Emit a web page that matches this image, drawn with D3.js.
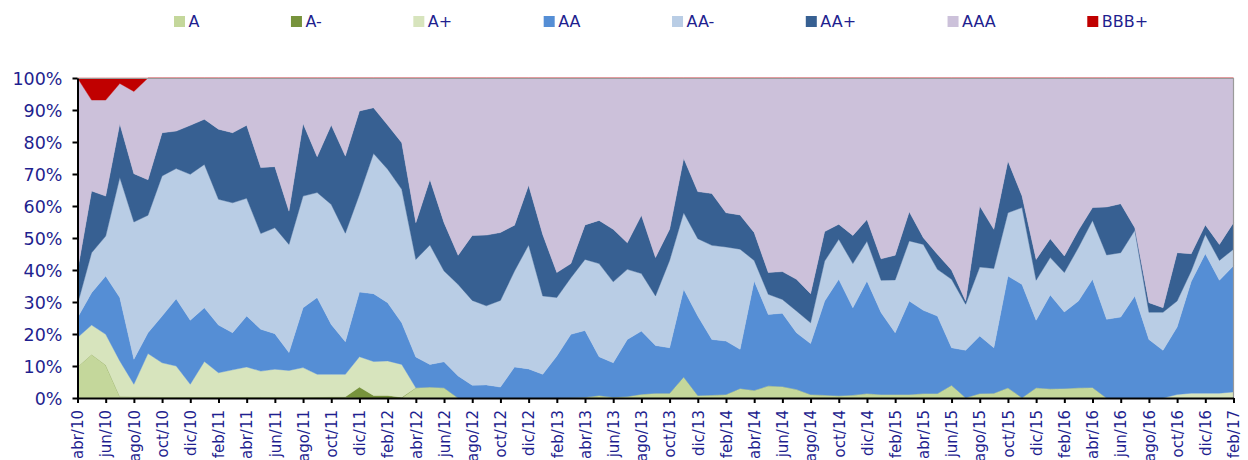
<!DOCTYPE html>
<html>
<head>
<meta charset="utf-8">
<script src="https://cdnjs.cloudflare.com/ajax/libs/d3/7.8.5/d3.min.js"></script>
<style>
  body { margin: 0; background: #fff; }
  text { font-family: "DejaVu Sans", Verdana, sans-serif; fill: #1f1f8f; }
</style>
</head>
<body>
<div class="chart"></div>
<script>
// categories (monthly, abr/10 .. feb/17)
var months = [
  "abr/10", "may/10", "jun/10", "jul/10", "ago/10", "sep/10", "oct/10", "nov/10", "dic/10",
  "ene/11", "feb/11", "mar/11", "abr/11", "may/11", "jun/11", "jul/11", "ago/11", "sep/11", "oct/11", "nov/11", "dic/11",
  "ene/12", "feb/12", "mar/12", "abr/12", "may/12", "jun/12", "jul/12", "ago/12", "sep/12", "oct/12", "nov/12", "dic/12",
  "ene/13", "feb/13", "mar/13", "abr/13", "may/13", "jun/13", "jul/13", "ago/13", "sep/13", "oct/13", "nov/13", "dic/13",
  "ene/14", "feb/14", "mar/14", "abr/14", "may/14", "jun/14", "jul/14", "ago/14", "sep/14", "oct/14", "nov/14", "dic/14",
  "ene/15", "feb/15", "mar/15", "abr/15", "may/15", "jun/15", "jul/15", "ago/15", "sep/15", "oct/15", "nov/15", "dic/15",
  "ene/16", "feb/16", "mar/16", "abr/16", "may/16", "jun/16", "jul/16", "ago/16", "sep/16", "oct/16", "nov/16", "dic/16",
  "ene/17", "feb/17"
];

// x tick labels: every second month
var tickLabels = months.filter(function(d, i) { return i % 2 === 0; });

var keys = ["A", "A-", "A+", "AA", "AA-", "AA+", "AAA", "BBB+"];
var colors = ["#c4d79b", "#77933c", "#d7e4bd", "#558ed5", "#b9cde5", "#376092", "#ccc1da", "#c00000"];

// series values (% of total)
var valsA = [
  9.7, 13.6, 10.3, 0.5, 0.4, 0.4, 0.3, 0.3, 0.3, 0.3,
  0.3, 0.3, 0.3, 0.3, 0.3, 0.3, 0.3, 0.2, 0.2, 0.2,
  0, 0, 0, 0, 3.2, 3.4, 3.2, 0, 0, 0,
  0, 0, 0, 0, 0, 0.1, 0.2, 0.8, 0.2, 0.5,
  1.2, 1.5, 1.5, 6.6, 0.8, 0.9, 1.1, 3.0, 2.4, 3.8,
  3.6, 2.7, 1.1, 0.9, 0.7, 0.9, 1.4, 1.1, 1.1, 1.1,
  1.4, 1.4, 4.0, 0.1, 1.4, 1.5, 3.2, 0.1, 3.2, 2.9,
  3.0, 3.2, 3.3, 0, 0, 0, 0, 0, 0, 0,
  0, 0, 0
];
var valsAminus = [
  0, 0, 0, 0, 0, 0, 0, 0, 0, 0,
  0, 0, 0, 0, 0, 0, 0, 0.1, 0.2, 0.2,
  3.4, 0.8, 0.8, 0.2, 0, 0, 0, 0, 0, 0,
  0, 0, 0, 0, 0, 0, 0, 0, 0, 0,
  0, 0, 0, 0, 0, 0, 0, 0, 0, 0,
  0, 0, 0, 0, 0, 0, 0, 0, 0, 0,
  0, 0, 0, 0, 0, 0, 0, 0, 0, 0,
  0, 0, 0, 0, 0, 0, 0, 0, 0, 0,
  0, 0, 0
];
var valsAplus = [
  9.2, 9.2, 9.6, 11.1, 3.9, 13.5, 10.7, 9.7, 4.0, 11.1,
  7.6, 8.5, 9.4, 8.1, 8.7, 8.3, 9.2, 7.1, 7.0, 7.0,
  9.5, 10.6, 10.8, 10.3, 0, 0, 0, 0, 0, 0,
  0, 0, 0, 0, 0, 0, 0, 0, 0, 0,
  0, 0, 0, 0, 0, 0, 0, 0, 0, 0,
  0, 0, 0, 0, 0, 0, 0, 0, 0, 0,
  0, 0, 0, 0, 0, 0, 0, 0, 0, 0,
  0, 0, 0, 0, 0, 0, 0, 0, 1.1, 1.5,
  1.5, 1.5, 1.9
];
var valsAA = [
  6.2, 10.1, 18.2, 19.8, 7.8, 6.5, 14.6, 21.0, 20.0, 16.8,
  14.9, 11.6, 15.9, 13.1, 11.1, 5.6, 18.7, 24.0, 15.6, 10.2,
  20.2, 21.2, 18.2, 13.0, 9.6, 7.1, 8.1, 6.9, 4.0, 4.1,
  3.4, 9.7, 9.1, 7.4, 13.1, 19.8, 20.9, 12.1, 10.8, 17.8,
  19.7, 14.9, 14.2, 27.4, 24.8, 17.4, 16.7, 12.2, 34.2, 22.3,
  22.9, 17.7, 15.9, 29.4, 36.4, 27.3, 35.2, 25.6, 19.3, 29.2,
  26.0, 24.2, 11.7, 14.8, 18.0, 14.2, 34.9, 35.4, 21.1, 29.3,
  23.9, 27.1, 33.8, 24.6, 25.3, 31.9, 18.3, 14.9, 21.1, 34.9,
  43.6, 35.3, 39.4
];
var valsAAminus = [
  4.2, 12.5, 12.5, 37.5, 42.9, 36.7, 43.8, 40.7, 45.6, 44.8,
  39.3, 40.6, 36.8, 29.9, 33.1, 33.8, 34.9, 32.8, 37.5, 33.9,
  30.5, 43.8, 41.7, 41.7, 30.5, 37.3, 28.4, 28.6, 26.5, 24.7,
  27.1, 30.0, 38.7, 24.5, 18.3, 17.7, 22.2, 29.1, 25.3, 21.9,
  18.0, 15.5, 27.3, 23.9, 24.2, 29.4, 29.4, 31.3, 6.4, 6.3,
  4.3, 6.8, 6.5, 12.5, 12.5, 13.8, 12.4, 10.1, 16.5, 18.8,
  20.6, 14.6, 21.4, 14.4, 21.5, 24.8, 19.8, 24.0, 12.5, 11.7,
  12.3, 16.7, 18.4, 20.1, 20.1, 20.5, 8.5, 11.9, 8.1, 3.3,
  6.0, 6.2, 5.2
];
var valsAAplus = [
  10.4, 19.3, 12.5, 16.8, 15.1, 11.1, 13.5, 11.7, 15.3, 14.1,
  21.9, 21.9, 22.8, 20.6, 19.1, 10.4, 22.7, 11.2, 24.8, 24.1,
  26.1, 14.3, 13.8, 14.6, 11.5, 20.5, 15.1, 9.1, 20.3, 22.1,
  21.2, 14.3, 18.7, 19.2, 7.8, 4.4, 10.8, 13.5, 16.4, 8.3,
  18.2, 12.0, 9.7, 17.0, 14.7, 16.2, 10.7, 10.7, 8.7, 6.8,
  8.7, 9.9, 9.1, 9.2, 4.7, 8.8, 6.8, 6.7, 7.7, 9.1,
  2.1, 4.7, 2.9, 1.0, 19.1, 12.2, 16.2, 3.6, 6.5, 5.9,
  5.2, 5.4, 4.0, 15.0, 15.3, 0.8, 3.0, 1.4, 15.1, 5.4,
  3.0, 5.0, 8.3
];
var valsAAA = [
  60.3, 28.4, 30.0, 12.6, 25.7, 31.8, 17.1, 16.6, 14.8, 12.9,
  16.0, 17.1, 14.8, 28.0, 27.7, 41.6, 14.2, 24.6, 14.7, 24.4,
  10.3, 9.3, 14.7, 20.2, 45.2, 31.7, 45.2, 55.4, 49.2, 49.1,
  48.3, 46.0, 33.5, 48.9, 60.8, 58.0, 45.9, 44.5, 47.3, 51.5,
  42.9, 56.1, 47.3, 25.1, 35.5, 36.1, 42.1, 42.8, 48.3, 60.8,
  60.5, 62.9, 67.4, 48.0, 45.7, 49.2, 44.2, 56.5, 55.4, 41.8,
  49.9, 55.1, 60.0, 69.7, 40.0, 47.3, 25.9, 36.9, 56.7, 50.2,
  55.6, 47.6, 40.5, 40.3, 39.3, 46.8, 70.2, 71.8, 54.6, 54.9,
  45.9, 52.0, 45.2
];
var valsBBBplus = [
  0, 6.9, 6.9, 1.7, 4.2, 0, 0, 0, 0, 0,
  0, 0, 0, 0, 0, 0, 0, 0, 0, 0,
  0, 0, 0, 0, 0, 0, 0, 0, 0, 0,
  0, 0, 0, 0, 0, 0, 0, 0, 0, 0,
  0, 0, 0, 0, 0, 0, 0, 0, 0, 0,
  0, 0, 0, 0, 0, 0, 0, 0, 0, 0,
  0, 0, 0, 0, 0, 0, 0, 0, 0, 0,
  0, 0, 0, 0, 0, 0, 0, 0, 0, 0,
  0, 0, 0
];

var seriesVals = [valsA, valsAminus, valsAplus, valsAA, valsAAminus, valsAAplus, valsAAA, valsBBBplus];

// build table rows for d3.stack
var table = months.map(function(m, i) {
  var row = { month: m };
  keys.forEach(function(k, j) { row[k] = seriesVals[j][i]; });
  return row;
});

var svgWidth = 1248;
var svgHeight = 460;

var margin = { top: 78, right: 14.5, bottom: 62, left: 77.5 };
var width = svgWidth - margin.left - margin.right;
var height = svgHeight - margin.top - margin.bottom;

var svg = d3.select(".chart")
  .append("svg")
  .attr("width", svgWidth)
  .attr("height", svgHeight);

var chartGroup = svg.append("g")
  .attr("transform", `translate(${margin.left}, ${margin.top})`);

// scales
var xScale = d3.scalePoint()
  .domain(months)
  .range([0, width]);

var yScale = d3.scaleLinear()
  .domain([0, 1])
  .range([height, 0]);

// 100% stack
var stack = d3.stack()
  .keys(keys)
  .order(d3.stackOrderNone)
  .offset(d3.stackOffsetExpand);

var layers = stack(table);

var area = d3.area()
  .x(d => xScale(d.data.month))
  .y0(d => yScale(d[0]))
  .y1(d => yScale(d[1]));

chartGroup.selectAll(".layer")
  .data(layers)
  .enter()
  .append("path")
  .attr("class", "layer")
  .attr("d", area)
  .attr("fill", (d, i) => colors[i])
  .attr("stroke", (d, i) => colors[i])
  .attr("stroke-width", 0.4);

// grey frame on top and right
chartGroup.append("path")
  .attr("d", `M0,0.5H${width}V${height}`)
  .attr("fill", "none")
  .attr("stroke", "#9a9a9a")
  .attr("stroke-width", 1.2);

// axes
var xAxis = d3.axisBottom(xScale)
  .tickValues(tickLabels)
  .tickSize(5)
  .tickSizeOuter(0);

var yAxis = d3.axisLeft(yScale)
  .tickValues(d3.range(0, 11).map(d => d / 10))
  .tickFormat(d3.format(".0%"))
  .tickSize(5)
  .tickSizeOuter(0)
  .tickPadding(10);

var xg = chartGroup.append("g")
  .attr("transform", `translate(0, ${height})`)
  .call(xAxis);

xg.selectAll("text")
  .attr("transform", "rotate(-90)")
  .attr("x", -12)
  .attr("y", 0)
  .attr("dy", "0.35em")
  .style("text-anchor", "end")
  .style("font-size", "15px");

var yg = chartGroup.append("g")
  .call(yAxis);

yg.selectAll("text")
  .attr("dy", "0.36em")
  .style("font-size", "17.5px");

[xg, yg].forEach(function(g) {
  g.select(".domain").attr("stroke", "#000").attr("stroke-width", 2);
  g.selectAll(".tick line").attr("stroke", "#000").attr("stroke-width", 2);
  g.selectAll("text").attr("fill", "#1f1f8f").attr("font-family", "DejaVu Sans, Verdana, sans-serif");
});

// legend
var legend = svg.append("g");
var lx = 174;
keys.forEach(function(k, i) {
  legend.append("rect")
    .attr("x", lx)
    .attr("y", 16)
    .attr("width", 11)
    .attr("height", 11)
    .attr("fill", colors[i]);
  var t = legend.append("text")
    .attr("x", lx + 14.5)
    .attr("y", 27)
    .style("font-size", "16px")
    .text(k);
  lx += 15 + t.node().getComputedTextLength() + 91;
});
</script>
</body>
</html>
